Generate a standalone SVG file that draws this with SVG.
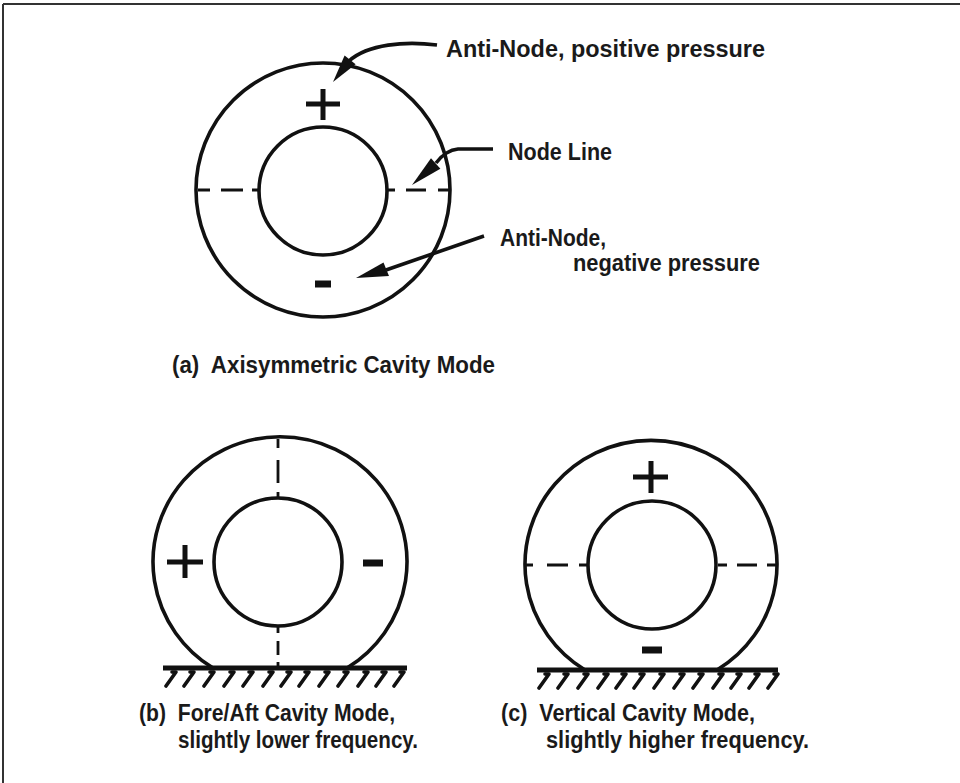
<svg xmlns="http://www.w3.org/2000/svg" width="960" height="783" viewBox="0 0 960 783">
<style>
.ln{fill:none;stroke:#111;stroke-width:3.6}
.dash{fill:none;stroke:#111;stroke-width:2.8}
.sym{fill:none;stroke:#111;stroke-width:5;stroke-linecap:butt}
.gnd{fill:none;stroke:#111;stroke-width:5}
.hatch{fill:none;stroke:#111;stroke-width:3.6;stroke-linecap:round;stroke-linejoin:round}
.ah{fill:#111;stroke:none}
text{font-family:"Liberation Sans",Arial,sans-serif;font-weight:bold;fill:#1a1a1a;font-size:23px}
</style>
<rect x="0" y="0" width="960" height="783" fill="#fff"/>
<path d="M3,4 H960 M3,4 V783" fill="none" stroke="#333" stroke-width="2"/>

<g id="diagram-a">
  <circle class="ln" cx="323" cy="190" r="127"/>
  <circle class="ln" cx="323" cy="191" r="64"/>
  <path class="dash" d="M198,190 H210 M221,190 H243 M252,190 H259 M388,190 H395 M406,190 H426 M438,190 H449"/>
  <path class="sym" d="M306,104 H340 M323,89 V120"/>
  <path d="M315,284 H331" stroke="#111" stroke-width="7" fill="none"/>
</g>

<g id="connectors">
  <path class="ln" d="M437,45 C405,41 368,44 349,61"/>
  <polygon class="ah" points="333,82 355.6,64.2 344.6,55.6"/>
  <path class="ln" d="M493,149 L458,149 Q446,150 436,163"/>
  <polygon class="ah" points="412,185 440.4,168.7 431,158.3"/>
  <path class="ln" d="M484,236 L386,270"/>
  <polygon class="ah" points="356,278 389,276 383.5,262.5"/>
</g>

<g id="labels-a">
  <text x="446" y="57" textLength="319" lengthAdjust="spacingAndGlyphs">Anti-Node, positive pressure</text>
  <text x="508" y="160" textLength="104" lengthAdjust="spacingAndGlyphs">Node Line</text>
  <text x="500" y="246" textLength="106" lengthAdjust="spacingAndGlyphs">Anti-Node,</text>
  <text x="573" y="271" textLength="187" lengthAdjust="spacingAndGlyphs">negative pressure</text>
  <text x="172" y="373" textLength="323" lengthAdjust="spacingAndGlyphs" xml:space="preserve">(a)  Axisymmetric Cavity Mode</text>
</g>

<g id="diagram-b">
  <path class="ln" d="M213,668 A127,125 0 1 1 347,668"/>
  <circle class="ln" cx="278" cy="562" r="64"/>
  <path class="dash" d="M278,439 V448 M278,460 V483 M278,492 V498 M278,626 V633 M278,641 V655 M278,662 V668"/>
  <path class="sym" d="M167,562 H203 M185,545 V578"/>
  <path d="M363,563 H383" stroke="#111" stroke-width="7" fill="none"/>
  <path class="gnd" d="M163,668 H407"/>
  <path class="hatch" d="M172,672 L176,672 L166,686 M190,672 L194,672 L184,686 M210,672 L214,672 L204,686 M230,672 L234,672 L224,686 M249,672 L253,672 L243,686 M269,672 L273,672 L263,686 M287,672 L291,672 L281,686 M305,672 L309,672 L299,686 M325,672 L329,672 L319,686 M344,672 L348,672 L338,686 M364,672 L368,672 L358,686 M382,672 L386,672 L376,686 M400,672 L404,672 L394,686"/>
  <text x="139" y="721" textLength="256" lengthAdjust="spacingAndGlyphs" xml:space="preserve">(b)  Fore/Aft Cavity Mode,</text>
  <text x="178" y="748" textLength="240" lengthAdjust="spacingAndGlyphs">slightly lower frequency.</text>
</g>

<g id="diagram-c">
  <path class="ln" d="M585,670 A126,124 0 1 1 717,670"/>
  <circle class="ln" cx="652" cy="565" r="64"/>
  <path class="dash" d="M526,565 H533 M547,565 H568 M579,565 H587 M718,565 H727 M737,565 H757 M767,565 H776"/>
  <path class="sym" d="M633,477 H668 M651,461 V493"/>
  <path d="M642,650 H662" stroke="#111" stroke-width="7" fill="none"/>
  <path class="gnd" d="M537,670 H778"/>
  <path class="hatch" d="M545,674 L549,674 L539,688 M564,674 L568,674 L558,688 M584,674 L588,674 L578,688 M604,674 L608,674 L598,688 M622,674 L626,674 L616,688 M640,674 L644,674 L634,688 M660,674 L664,674 L654,688 M680,674 L684,674 L674,688 M699,674 L703,674 L693,688 M719,674 L723,674 L713,688 M737,674 L741,674 L731,688 M755,674 L759,674 L749,688 M774,674 L778,674 L768,688"/>
  <text x="501" y="721" textLength="254" lengthAdjust="spacingAndGlyphs" xml:space="preserve">(c)  Vertical Cavity Mode,</text>
  <text x="546" y="748" textLength="263" lengthAdjust="spacingAndGlyphs">slightly higher frequency.</text>
</g>
</svg>
